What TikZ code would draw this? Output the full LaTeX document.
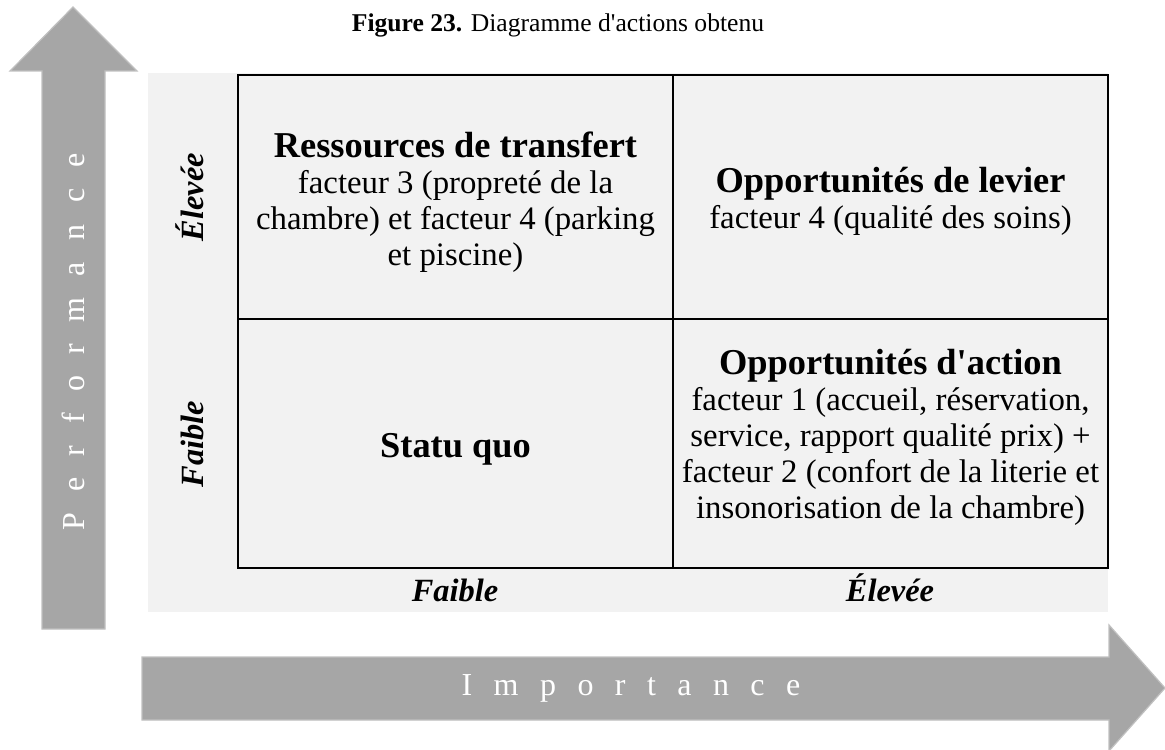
\documentclass[tikz,border=0pt]{standalone}
\usepackage{fontspec}
\setmainfont{Liberation Serif}
\definecolor{arrowgrey}{HTML}{A6A6A6}
\definecolor{arrowedge}{HTML}{C0C0C0}
\definecolor{panelgrey}{HTML}{F2F2F2}
\newcommand{\quadtitle}[1]{{\fontsize{18.2}{21}\selectfont\bfseries #1}}
\newcommand{\spacedword}[1]{\spaceskip=0.67em\relax #1}

\begin{document}
\begin{tikzpicture}[
        x=0.5pt, y=-0.5pt,
        quad/.style={rectangle, draw, line width=1pt, minimum width=217.5pt, minimum height=122pt, anchor=north west, inner sep=0pt},
        quad_text/.style={align=center, inner sep=0pt, font=\fontsize{16.4}{18}\selectfont},
        axis_label/.style={anchor=base, font=\fontsize{16.2}{19}\selectfont\bfseries\itshape},
        big_arrow/.style={fill=arrowgrey, draw=arrowedge, line width=0.6pt},
        arrow_text/.style={text=white, font=\fontsize{16}{19}\selectfont}
    ]
        \useasboundingbox (0,0) rectangle (1165,749);

        % Title
        \node[anchor=base] (title) at (558,32) {\fontsize{12.8}{15}\selectfont\textbf{Figure 23.} Diagramme d\textquotesingle actions obtenu};

        % Axis arrows
        \draw[big_arrow] (42,629) -- (42,71) -- (10,71) -- (73,7) -- (137,71) -- (105,71) -- (105,629) -- cycle;
        \draw[big_arrow] (142,657) -- (1109,657) -- (1109,625) -- (1165,688) -- (1109,751) -- (1109,720) -- (142,720) -- cycle;
        \node[arrow_text, rotate=90] (perf_label) at (73,342) {\spacedword{P e r f o r m a n c e}};
        \node[arrow_text] (imp_label) at (631,688) {\spacedword{I m p o r t a n c e}};

        % Grey panel behind the matrix
        \fill[panelgrey] (148,73) rectangle (1108,612);

        % Quadrants
        \node[quad] (q_transfer) at (237,74) {};
        \node[quad] (q_levier) at (672,74) {};
        \node[quad, minimum height=124.5pt] (q_statu) at (237,318) {};
        \node[quad, minimum height=124.5pt] (q_action) at (672,318) {};

        \node[quad_text, yshift=-2.75pt] (t_transfer) at (q_transfer.center) {\quadtitle{Ressources de transfert}\\ facteur 3 (propreté de la\\ chambre) et facteur 4 (parking\\ et piscine)};
        \node[quad_text, yshift=-2.25pt] (t_levier) at (q_levier.center) {\quadtitle{Opportunités de levier}\\ facteur 4 (qualité des soins)};
        \node[quad_text, yshift=-3pt] (t_statu) at (q_statu.center) {\quadtitle{Statu quo}};
        \node[quad_text, yshift=3.25pt] (t_action) at (q_action.center) {\quadtitle{Opportunités d\textquotesingle action}\\ facteur 1 (accueil, réservation,\\ service, rapport qualité prix) +\\ facteur 2 (confort de la literie et\\ insonorisation de la chambre)};

        % Axis levels
        \node[axis_label, rotate=90] (perf_high) at (203,197) {Élevée};
        \node[axis_label, rotate=90] (perf_low) at (203,444) {Faible};
        \node[axis_label] (imp_low) at (455,601) {Faible};
        \node[axis_label] (imp_high) at (890,601) {Élevée};

    \end{tikzpicture}
\end{document}
